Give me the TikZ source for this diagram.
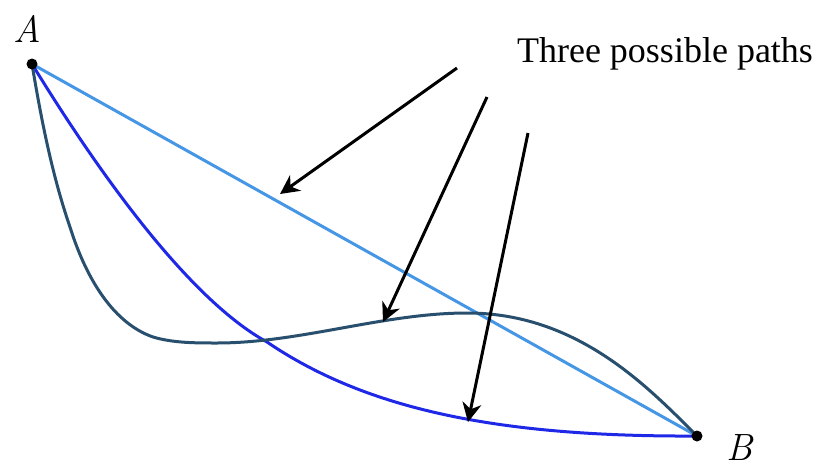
\documentclass[tikz,border=0pt]{standalone}
\usepackage{fontspec}
\setmainfont{Liberation Serif}
\newfontfamily\lmfont{Latin Modern Roman}
\usetikzlibrary{arrows.meta}
\definecolor{straightblue}{RGB}{70,150,230}
\definecolor{cycblue}{RGB}{30,40,230}
\definecolor{darkpath}{RGB}{40,80,110}
\tikzset{
  pathline/.style={line width=3pt, line cap=round},
  pointer/.style={line width=3pt, black, -{Stealth[length=19pt,width=19pt,inset=6pt]}},
  enddot/.style={circle, fill=black, inner sep=0pt, minimum size=11pt},
  lab/.style={font=\fontsize{36}{40}\selectfont, inner sep=0pt, anchor=base},
  ptlab/.style={font=\lmfont\itshape\fontsize{38}{42}\selectfont, inner sep=0pt, anchor=base}
}
\begin{document}
\begin{tikzpicture}[x=1pt,y=-1pt]
\useasboundingbox (0,0) rectangle (819,466);
\coordinate (A) at (32,64);
\coordinate (B) at (697,436);
\coordinate (c1) at (267,342);
\coordinate (d1) at (70,227);
\coordinate (d2) at (153,337);
\coordinate (dmin) at (217,343);
\coordinate (dmax) at (467,313);
% straight path
\draw[pathline, straightblue] (A) -- (B);
% cycloid-like path
\draw[pathline, cycblue] (A) .. controls (100,175) and (190,300) .. (c1)
  .. controls (367,410) and (500,437) .. (B);
% wavy path
\draw[pathline, darkpath] (A) .. controls (41,118) and (52,175) .. (d1)
  .. controls (84,272) and (110,322) .. (d2)
  .. controls (173,343) and (196,343) .. (dmin)
  .. controls (300,343) and (384,313) .. (dmax)
  .. controls (577,313) and (647,386) .. (B);
\node[enddot] (Adot) at (A) {};
\node[enddot] (Bdot) at (B) {};
\node[ptlab] (Alab) at (27.5,42) {A};
\node[ptlab] (Blab) at (740,460) {B};
\node[lab] (title) at (665,62) {Three possible paths};
\coordinate (s1) at (457,68);
\coordinate (t1) at (280,194);
\coordinate (s2) at (487,97);
\coordinate (t2) at (383,322);
\coordinate (s3) at (528,133);
\coordinate (t3) at (468,422);
\draw[pointer] (s1) -- (t1);
\draw[pointer] (s2) -- (t2);
\draw[pointer] (s3) -- (t3);
\end{tikzpicture}
\end{document}
